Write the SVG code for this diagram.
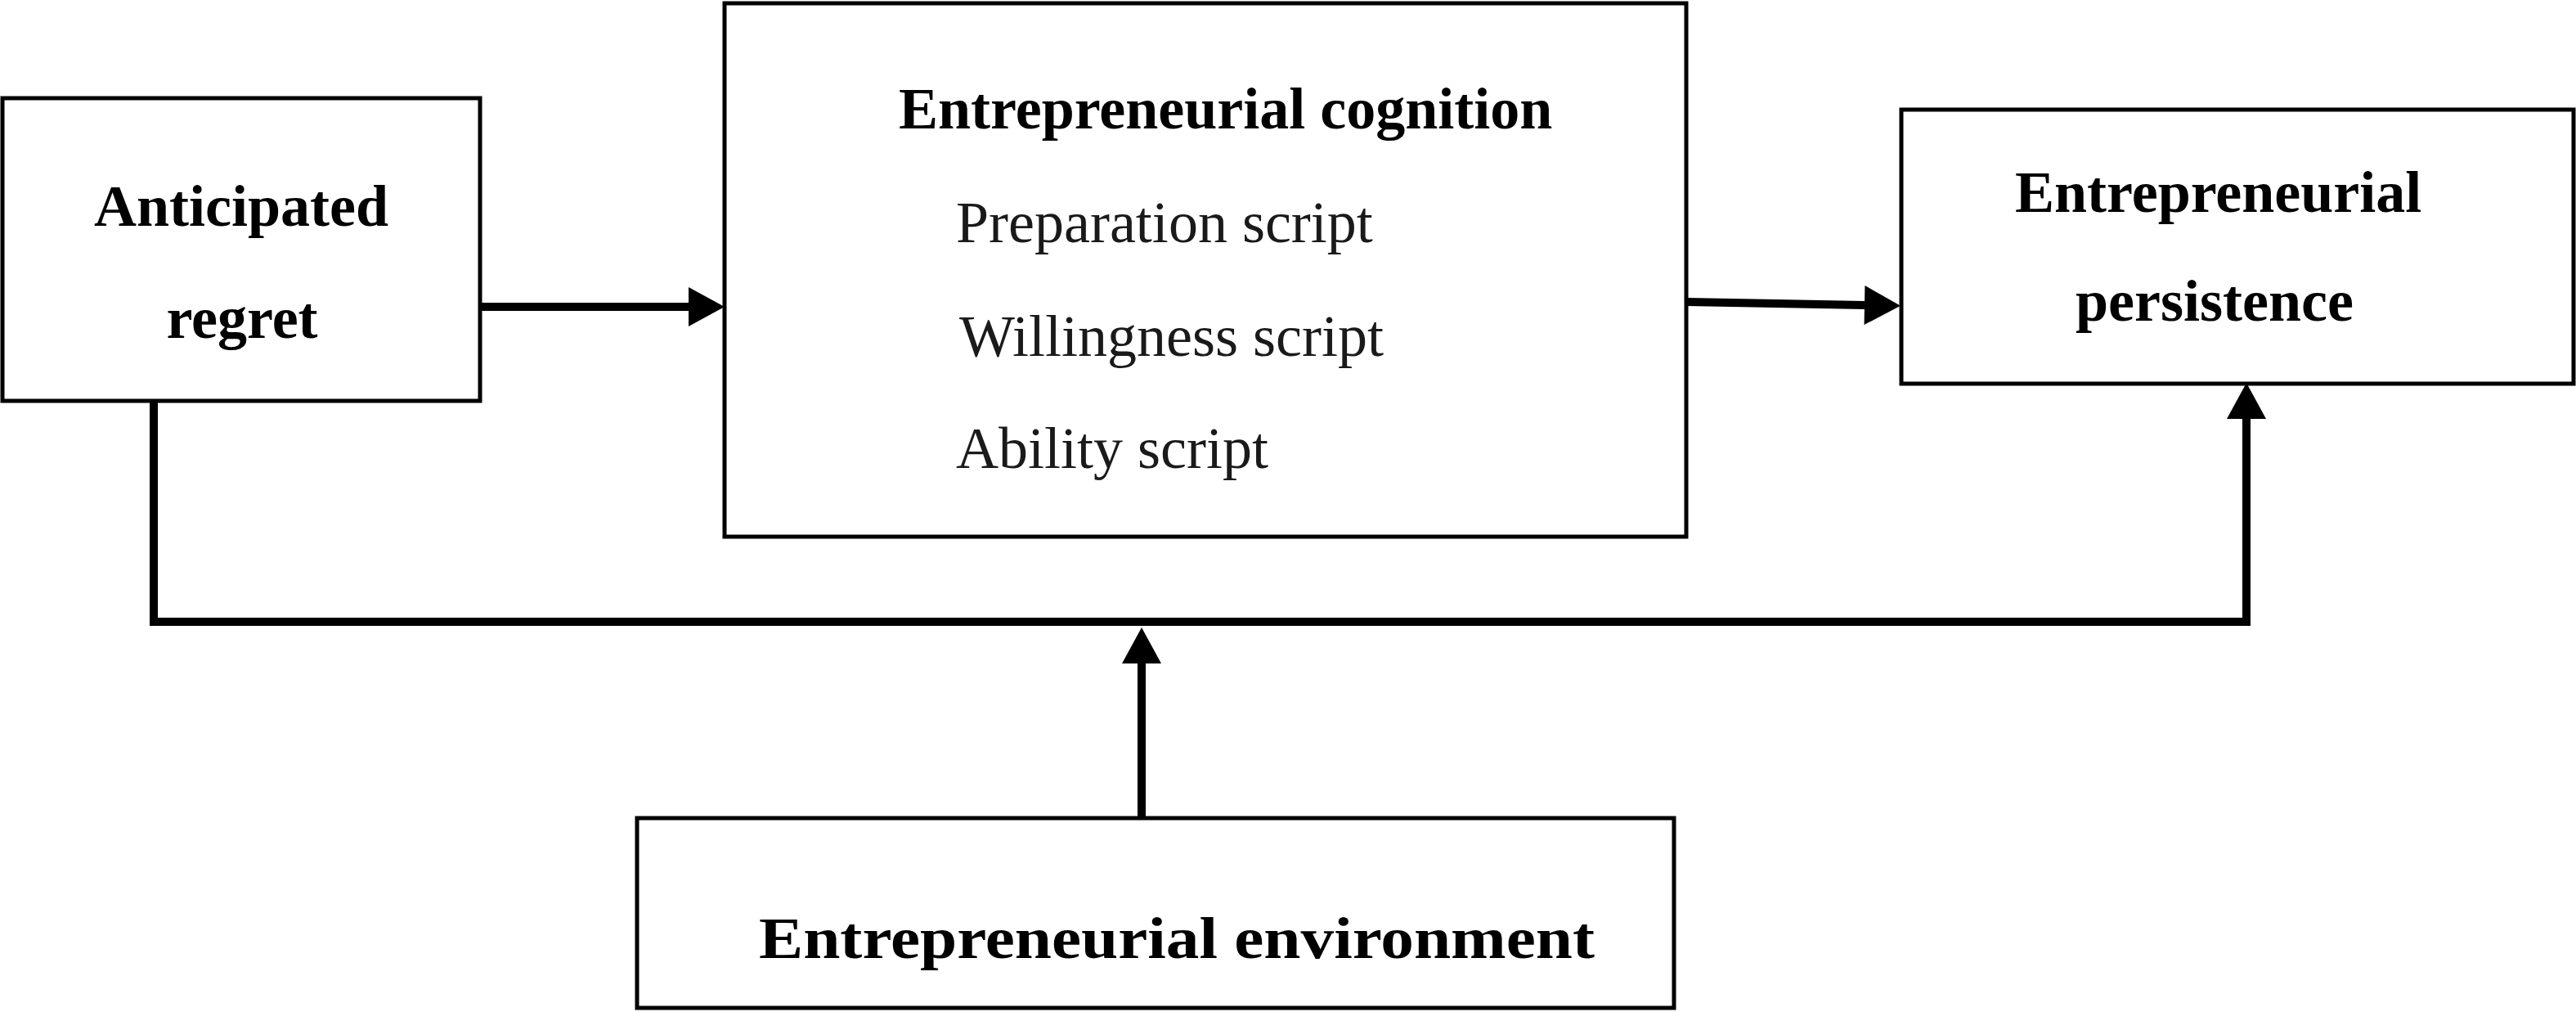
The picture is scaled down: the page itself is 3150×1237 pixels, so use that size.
<svg xmlns="http://www.w3.org/2000/svg" width="3150" height="1237" viewBox="0 0 3150 1237">
  <style>
    .box { fill: #ffffff; stroke: #000000; stroke-width: 5; }
    .bold { font-family: "Liberation Serif", "Times New Roman", serif; font-weight: bold; font-size: 72px; fill: #000000; }
    .reg { font-family: "Liberation Serif", "Times New Roman", serif; font-size: 72px; fill: #1a1a1a; }
    .conn { fill: none; stroke: #000000; stroke-width: 10; }
  </style>
  <defs>
    <marker id="arrow" markerUnits="userSpaceOnUse" markerWidth="46" markerHeight="50" refX="0" refY="24" orient="auto" overflow="visible">
      <path d="M0,0 L44,24 L0,48 Z" fill="#000000"/>
    </marker>
  </defs>
  <rect width="3150" height="1237" fill="#ffffff"/>

  <g id="node-anticipated-regret">
    <rect class="box" x="3" y="120" width="584" height="370"/>
    <text class="bold" x="295" y="276" text-anchor="middle">Anticipated</text>
    <text class="bold" x="296" y="413" text-anchor="middle">regret</text>
  </g>

  <g id="node-entrepreneurial-cognition">
    <rect class="box" x="886" y="4" width="1176" height="652"/>
    <text class="bold" x="1099" y="157">Entrepreneurial cognition</text>
    <text class="reg" x="1169" y="296">Preparation script</text>
    <text class="reg" x="1173" y="435">Willingness script</text>
    <text class="reg" x="1169" y="572">Ability script</text>
  </g>

  <g id="node-entrepreneurial-persistence">
    <rect class="box" x="2325" y="134" width="822" height="335"/>
    <text class="bold" x="2464" y="259">Entrepreneurial</text>
    <text class="bold" x="2538" y="392">persistence</text>
  </g>

  <g id="node-entrepreneurial-environment">
    <rect class="box" x="779" y="1000" width="1268" height="232"/>
    <text class="bold" x="928" y="1171" font-size="82" textLength="1022" lengthAdjust="spacingAndGlyphs">Entrepreneurial environment</text>
  </g>

  <g id="connectors">
    <line class="conn" x1="587" y1="375" x2="842" y2="375" marker-end="url(#arrow)"/>
    <line class="conn" x1="2062" y1="369" x2="2280" y2="373" stroke-width="12" marker-end="url(#arrow)"/>
    <polyline class="conn" points="188,490 188,760 2747,760 2747,512" stroke-linejoin="miter" marker-end="url(#arrow)"/>
    <line class="conn" x1="1396" y1="1000" x2="1396" y2="811" stroke-width="8" marker-end="url(#arrow)"/>
  </g>
</svg>
